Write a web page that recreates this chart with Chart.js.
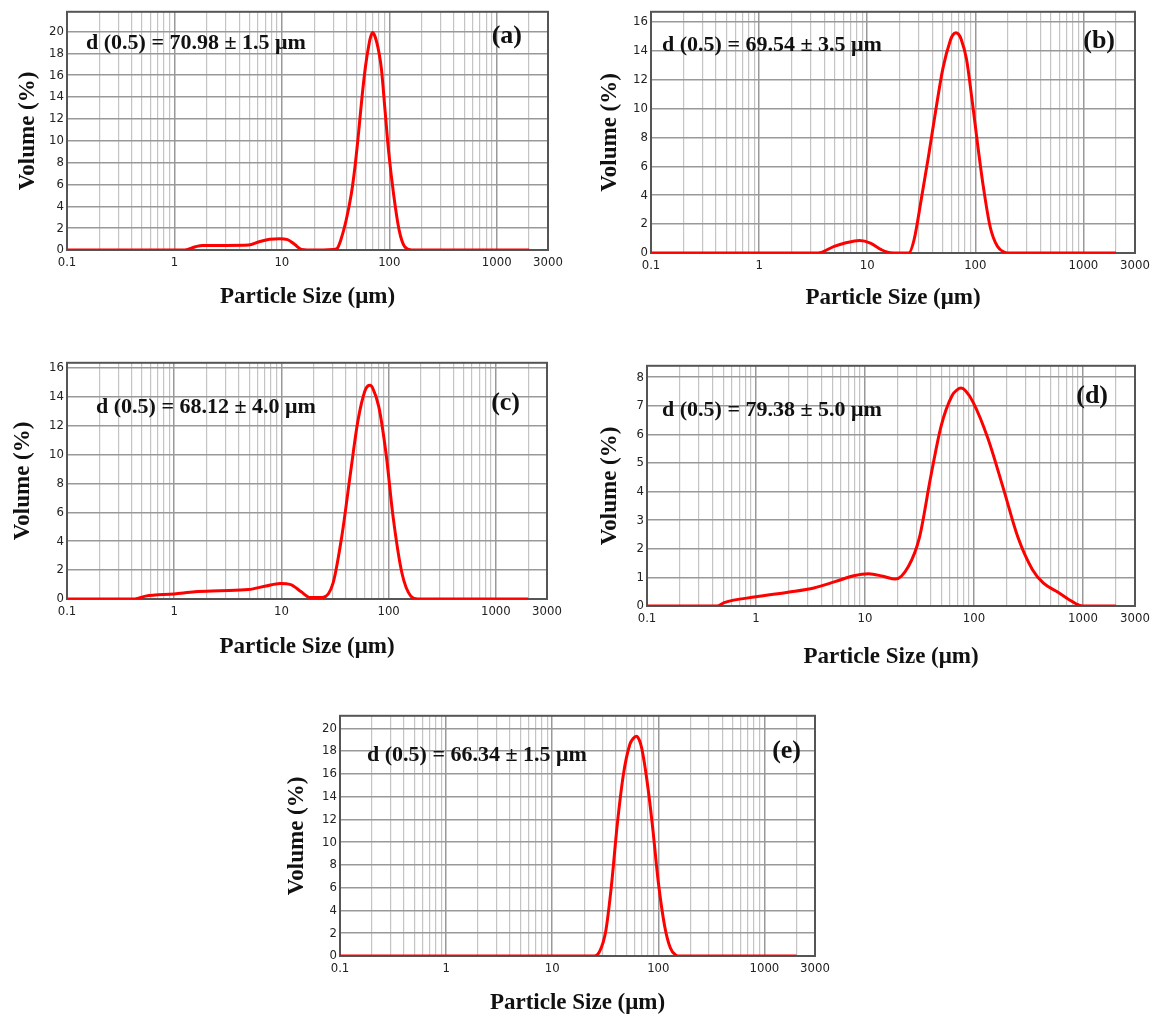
<!DOCTYPE html>
<html>
<head>
<meta charset="utf-8">
<script src="https://cdn.jsdelivr.net/npm/chart.js@4.4.1/dist/chart.umd.min.js"></script>
<style>
  html, body { margin: 0; padding: 0; background: #fff; }
  body { position: relative; width: 1153px; height: 1017px; overflow: hidden; }
  canvas { position: absolute; }
</style>
</head>
<body>
<script>
// particle size (um) and volume (%)
const sizeA = [0.1, 1.25, 1.57, 1.82, 3, 4.9, 6.15, 7.7, 9.5, 11.3, 13.2, 15.3, 20, 30, 32.7, 35.3, 39.6, 44.4, 47.9, 51.6, 55.7, 60, 64.9, 67.5, 70, 72.5, 76, 80, 84.6, 91.2, 98.4, 110, 123.6, 139, 161, 2000];
const volA = [0, 0, 0.3, 0.42, 0.42, 0.45, 0.75, 0.98, 1.02, 0.95, 0.5, 0.05, 0, 0.05, 0.15, 0.9, 2.7, 5.2, 7.6, 10.6, 14, 16.8, 18.9, 19.6, 19.9, 19.7, 19.1, 18.1, 16.5, 12.8, 9.1, 5.0, 1.8, 0.3, 0, 0];

const sizeB = [0.1, 3.5, 4.95, 6.24, 8.5, 10.7, 13.5, 16.4, 24.2, 27.1, 31.6, 36.9, 43.1, 50.2, 58.6, 62, 65.9, 70, 74, 83, 93.3, 104.7, 117.5, 137.3, 160, 187, 210, 2000];
const volB = [0, 0, 0.46, 0.69, 0.87, 0.69, 0.23, 0.02, 0, 0.9, 3.7, 6.7, 9.9, 12.8, 14.7, 15.1, 15.25, 15.15, 14.8, 13.4, 10.6, 7.6, 4.8, 1.8, 0.46, 0.05, 0, 0];

const sizeC = [0.1, 0.43, 0.54, 1.0, 1.56, 2.67, 4.9, 7.2, 9.7, 12.2, 15.3, 18.5, 24.1, 30.3, 36.5, 44.4, 51.6, 60, 64, 67.2, 71, 81, 94.8, 110, 133, 161, 187, 2000];
const volC = [0, 0, 0.2, 0.35, 0.5, 0.57, 0.65, 0.9, 1.08, 1.0, 0.5, 0.1, 0.1, 1.1, 4.3, 8.9, 12.3, 14.4, 14.75, 14.8, 14.6, 13.3, 10, 5.7, 1.8, 0.2, 0, 0];

const sizeD = [0.1, 0.44, 0.51, 1.0, 1.96, 3.4, 5.4, 7.9, 10.8, 14.6, 19, 25, 31.6, 40, 50, 63, 70, 76, 84, 98, 134, 185, 252, 344, 434, 590, 740, 930, 1000, 2000];
const volD = [0, 0, 0.12, 0.32, 0.48, 0.63, 0.86, 1.06, 1.13, 1.04, 0.94, 1.38, 2.4, 4.5, 6.3, 7.36, 7.56, 7.62, 7.52, 7.13, 5.87, 4.14, 2.42, 1.27, 0.8, 0.48, 0.23, 0.02, 0, 0];

const sizeE = [0.1, 25, 28, 32, 36, 41, 47, 54, 58, 62, 66, 70, 78, 88, 100, 115, 130, 145, 160, 2000];
const volE = [0, 0, 0.4, 2.2, 6.0, 11.5, 16, 18.6, 19.1, 19.3, 19.0, 18.2, 15.5, 11.5, 6.5, 2.6, 0.7, 0.1, 0, 0];

const medianLabels = [
  'd (0.5) = 70.98 ± 1.5 μm',
  'd (0.5) = 69.54 ± 3.5 μm',
  'd (0.5) = 68.12 ± 4.0 μm',
  'd (0.5) = 79.38 ± 5.0 μm',
  'd (0.5) = 66.34 ± 1.5 μm'
];
const panelTags = ['(a)', '(b)', '(c)', '(d)', '(e)'];
const xTickLabels = [0.1, 1, 10, 100, 1000, 3000];
const yMax = [21.8, 16.7, 16.35, 8.4, 21.1];
const yStep = [2, 2, 2, 1, 2];

const sizes = [sizeA, sizeB, sizeC, sizeD, sizeE];
const volumes = [volA, volB, volC, volD, volE];

// plot boxes on the page
const boxes = [
  { L: 67, T: 11, R: 548, B: 250, yTitleX: 28, xTitleY: 297, textDx: 19, textDy: 32, tagDx: 26, tagDy: 24 },
  { L: 651, T: 11, R: 1135, B: 253, yTitleX: 610, xTitleY: 298, textDx: 11, textDy: 34, tagDx: 20, tagDy: 29 },
  { L: 67, T: 362, R: 547, B: 599, yTitleX: 23, xTitleY: 647, textDx: 29, textDy: 45, tagDx: 27, tagDy: 40 },
  { L: 647, T: 365, R: 1135, B: 606, yTitleX: 610, xTitleY: 657, textDx: 15, textDy: 45, tagDx: 27, tagDy: 30 },
  { L: 340, T: 715, R: 815, B: 956, yTitleX: 297, xTitleY: 1003, textDx: 27, textDy: 40, tagDx: 14, tagDy: 35 }
];

// 1..9 per decade gridlines
const xGridValues = [];
for (let e = -1; e <= 3; e++) {
  for (let s = 1; s <= 9; s++) {
    const v = parseFloat((s * Math.pow(10, e)).toPrecision(3));
    if (v <= 3000) xGridValues.push(v);
  }
}

const isDecade = (v) => Math.abs(Math.log10(v) - Math.round(Math.log10(v))) < 1e-6;

const tickFont = { family: "'DejaVu Sans Condensed', 'Liberation Sans Narrow', sans-serif", size: 13 };
const titleFont = { family: "'Liberation Serif', 'Times New Roman', serif", size: 23, weight: 'bold' };

const framePlugin = {
  id: 'frame',
  beforeDatasetsDraw(chart) {
    const { ctx, chartArea: a } = chart;
    ctx.save();
    ctx.strokeStyle = '#555';
    ctx.lineWidth = 2;
    ctx.strokeRect(a.left, a.top, a.right - a.left, a.bottom - a.top);
    ctx.restore();
  }
};

function labelPlugin(i) {
  const b = boxes[i];
  return {
    id: 'labels' + i,
    afterDatasetsDraw(chart) {
      const { ctx, chartArea: a } = chart;
      ctx.save();
      ctx.fillStyle = '#111';
      ctx.textBaseline = 'middle';
      ctx.font = "bold 22px 'Liberation Serif', serif";
      ctx.textAlign = 'left';
      ctx.fillText(medianLabels[i], a.left + b.textDx, a.top + b.textDy);
      ctx.font = "bold 26px 'Liberation Serif', serif";
      ctx.textAlign = 'right';
      ctx.fillText(panelTags[i], a.right - b.tagDx, a.top + b.tagDy);
      ctx.restore();
    }
  };
}

function drawPanel(i) {
  const b = boxes[i];
  const half = titleFont.size * 1.2 / 2;
  const left = Math.round(b.yTitleX - half);
  const top = b.T - 10;
  const right = b.R + 24;
  const bottom = Math.round(b.xTitleY + half);
  const yw = b.L - left;
  const xh = bottom - b.B;

  const canvas = document.createElement('canvas');
  canvas.width = right - left;
  canvas.height = bottom - top;
  canvas.style.left = left + 'px';
  canvas.style.top = top + 'px';
  document.body.appendChild(canvas);

  new Chart(canvas, {
    type: 'line',
    data: {
      datasets: [{
        data: sizes[i].map((x, k) => ({ x, y: volumes[i][k] })),
        borderColor: '#ff0000',
        borderWidth: 3,
        pointRadius: 0,
        cubicInterpolationMode: 'monotone',
        fill: false
      }]
    },
    options: {
      responsive: false,
      animation: false,
      layout: { padding: { left: 0, top: 10, right: 24, bottom: 0 } },
      plugins: { legend: { display: false }, tooltip: { enabled: false } },
      scales: {
        x: {
          type: 'logarithmic',
          min: 0.1,
          max: 3000,
          afterBuildTicks: (s) => { s.ticks = xGridValues.map((v) => ({ value: v, major: isDecade(v) })); },
          afterFit: (s) => { s.height = xh; },
          ticks: {
            autoSkip: false,
            maxRotation: 0,
            padding: 5,
            color: '#222',
            font: tickFont,
            callback: (v) => (xTickLabels.includes(v) ? String(v) : '')
          },
          grid: {
            drawTicks: false,
            color: (c) => (c.tick && isDecade(c.tick.value) ? '#999' : '#c4c4c4'),
            lineWidth: (c) => (c.tick && isDecade(c.tick.value) ? 1.5 : 1.2)
          },
          border: { display: false },
          title: { display: true, text: 'Particle Size (μm)', font: titleFont, color: '#111', padding: 0 }
        },
        y: {
          min: 0,
          max: yMax[i],
          afterFit: (s) => { s.width = yw; },
          ticks: { stepSize: yStep[i], includeBounds: false, padding: 3, color: '#222', font: tickFont },
          grid: { drawTicks: false, color: '#999', lineWidth: 1.5 },
          border: { display: false },
          title: { display: true, text: 'Volume (%)', font: titleFont, color: '#111', padding: 0 }
        }
      }
    },
    plugins: [framePlugin, labelPlugin(i)]
  });
}

for (let i = 0; i < boxes.length; i++) drawPanel(i);
</script>
</body>
</html>
